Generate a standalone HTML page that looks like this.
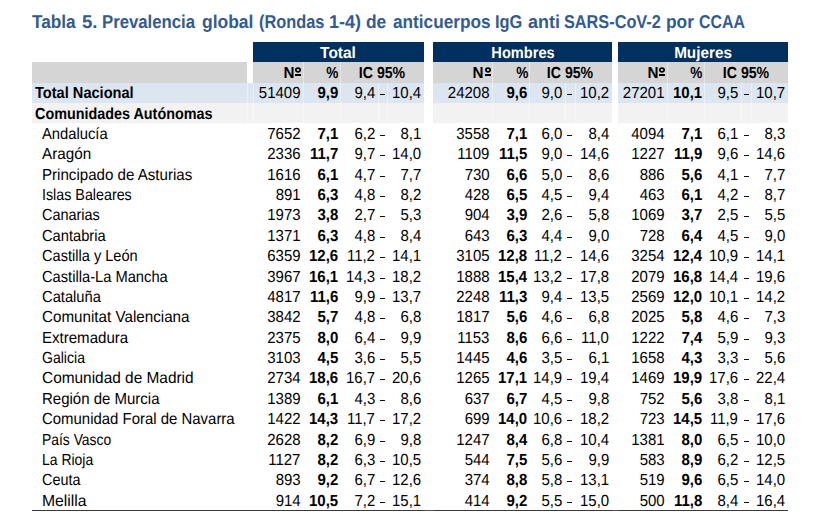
<!DOCTYPE html>
<html><head><meta charset="utf-8"><style>
html,body{margin:0;padding:0;background:#fff;}
body{width:828px;height:531px;position:relative;overflow:hidden;font-family:"Liberation Sans",sans-serif;color:#000;text-rendering:geometricPrecision;}
.r{position:absolute;}
.t{position:absolute;white-space:nowrap;line-height:1;}
</style></head><body>
<div class="r" style="left:253px;top:42px;width:171px;height:20.2px;background:#00305f"></div>
<div class="r" style="left:433.4px;top:42px;width:178.6px;height:20.2px;background:#00305f"></div>
<div class="r" style="left:618px;top:42px;width:170px;height:20.2px;background:#00305f"></div>
<div class="r" style="left:32px;top:62.2px;width:215px;height:20.4px;background:#d5d5d5"></div>
<div class="r" style="left:253px;top:62.2px;width:171px;height:20.4px;background:#d5d5d5"></div>
<div class="r" style="left:433.4px;top:62.2px;width:178.6px;height:20.4px;background:#d5d5d5"></div>
<div class="r" style="left:618px;top:62.2px;width:170px;height:20.4px;background:#d5d5d5"></div>
<div class="r" style="left:32px;top:82.6px;width:392px;height:20.2px;background:#dce6f1"></div>
<div class="r" style="left:433.4px;top:82.6px;width:178.6px;height:20.2px;background:#dce6f1"></div>
<div class="r" style="left:618px;top:82.6px;width:170px;height:20.2px;background:#dce6f1"></div>
<div class="r" style="left:32px;top:102.8px;width:392px;height:20.2px;background:#f2f2f2"></div>
<div class="r" style="left:433.4px;top:102.8px;width:178.6px;height:20.2px;background:#f2f2f2"></div>
<div class="r" style="left:618px;top:102.8px;width:170px;height:20.2px;background:#f2f2f2"></div>
<div class="r" style="left:302.8px;top:62.2px;width:1px;height:20.4px;background:rgba(255,255,255,0.4)"></div>
<div class="r" style="left:339.9px;top:62.2px;width:1px;height:20.4px;background:rgba(255,255,255,0.4)"></div>
<div class="r" style="left:302.8px;top:82.6px;width:1px;height:40.4px;background:rgba(255,255,255,0.4)"></div>
<div class="r" style="left:339.9px;top:82.6px;width:1px;height:40.4px;background:rgba(255,255,255,0.4)"></div>
<div class="r" style="left:377.5px;top:82.6px;width:1px;height:40.4px;background:rgba(255,255,255,0.4)"></div>
<div class="r" style="left:386.7px;top:82.6px;width:1px;height:40.4px;background:rgba(255,255,255,0.4)"></div>
<div class="r" style="left:492.2px;top:62.2px;width:1px;height:20.4px;background:rgba(255,255,255,0.4)"></div>
<div class="r" style="left:529.1px;top:62.2px;width:1px;height:20.4px;background:rgba(255,255,255,0.4)"></div>
<div class="r" style="left:492.2px;top:82.6px;width:1px;height:40.4px;background:rgba(255,255,255,0.4)"></div>
<div class="r" style="left:529.1px;top:82.6px;width:1px;height:40.4px;background:rgba(255,255,255,0.4)"></div>
<div class="r" style="left:564.5px;top:82.6px;width:1px;height:40.4px;background:rgba(255,255,255,0.4)"></div>
<div class="r" style="left:575px;top:82.6px;width:1px;height:40.4px;background:rgba(255,255,255,0.4)"></div>
<div class="r" style="left:667.1px;top:62.2px;width:1px;height:20.4px;background:rgba(255,255,255,0.4)"></div>
<div class="r" style="left:703.8px;top:62.2px;width:1px;height:20.4px;background:rgba(255,255,255,0.4)"></div>
<div class="r" style="left:667.1px;top:82.6px;width:1px;height:40.4px;background:rgba(255,255,255,0.4)"></div>
<div class="r" style="left:703.8px;top:82.6px;width:1px;height:40.4px;background:rgba(255,255,255,0.4)"></div>
<div class="r" style="left:740.5px;top:82.6px;width:1px;height:40.4px;background:rgba(255,255,255,0.4)"></div>
<div class="r" style="left:750.7px;top:82.6px;width:1px;height:40.4px;background:rgba(255,255,255,0.4)"></div>
<div class="r" style="left:246.5px;top:82.6px;width:1px;height:40.4px;background:rgba(255,255,255,0.4)"></div>
<div class="r" style="left:252.5px;top:82.6px;width:1px;height:40.4px;background:rgba(255,255,255,0.4)"></div>
<div class="r" style="left:32px;top:510px;width:756px;height:1px;background:#3a3a3a"></div>
<div class="r" style="left:424.5px;top:510px;width:9px;height:1px;background:#5a5a5a"></div>
<div class="r" style="left:612.5px;top:510px;width:5px;height:1px;background:#5a5a5a"></div>
<div class="t" style="top:13.14px;font-size:18.5px;font-weight:bold;color:#325b93;left:32.3px;transform:scaleX(0.9298);transform-origin:0 0;">Tabla</div>
<div class="t" style="top:13.14px;font-size:18.5px;font-weight:bold;color:#325b93;left:81.79px;transform:scaleX(1.0077);transform-origin:0 0;">5.</div>
<div class="t" style="top:13.14px;font-size:18.5px;font-weight:bold;color:#325b93;left:102.1px;transform:scaleX(0.9049);transform-origin:0 0;">Prevalencia</div>
<div class="t" style="top:13.14px;font-size:18.5px;font-weight:bold;color:#325b93;left:201.86px;transform:scaleX(0.9442);transform-origin:0 0;">global</div>
<div class="t" style="top:13.14px;font-size:18.5px;font-weight:bold;color:#325b93;left:258.62px;transform:scaleX(0.8836);transform-origin:0 0;">(Rondas</div>
<div class="t" style="top:13.14px;font-size:18.5px;font-weight:bold;color:#325b93;left:329.43px;transform:scaleX(0.9742);transform-origin:0 0;">1-4)</div>
<div class="t" style="top:13.14px;font-size:18.5px;font-weight:bold;color:#325b93;left:366.46px;transform:scaleX(0.94);transform-origin:0 0;">de</div>
<div class="t" style="top:13.14px;font-size:18.5px;font-weight:bold;color:#325b93;left:392.5px;transform:scaleX(0.9298);transform-origin:0 0;">anticuerpos</div>
<div class="t" style="top:13.14px;font-size:18.5px;font-weight:bold;color:#325b93;left:495.11px;transform:scaleX(0.8862);transform-origin:0 0;">IgG</div>
<div class="t" style="top:13.14px;font-size:18.5px;font-weight:bold;color:#325b93;left:527.7px;transform:scaleX(0.9688);transform-origin:0 0;">anti</div>
<div class="t" style="top:13.14px;font-size:18.5px;font-weight:bold;color:#325b93;left:563.62px;transform:scaleX(0.8798);transform-origin:0 0;">SARS-CoV-2</div>
<div class="t" style="top:13.14px;font-size:18.5px;font-weight:bold;color:#325b93;left:665.66px;transform:scaleX(0.9379);transform-origin:0 0;">por</div>
<div class="t" style="top:13.14px;font-size:18.5px;font-weight:bold;color:#325b93;left:698.94px;transform:scaleX(0.8577);transform-origin:0 0;">CCAA</div>
<div class="t" style="top:46px;font-size:16px;font-weight:bold;color:#fff;left:138.4px;width:400px;text-align:center;transform:scaleX(0.967);transform-origin:50% 0;">Total</div>
<div class="t" style="top:46px;font-size:16px;font-weight:bold;color:#fff;left:323px;width:400px;text-align:center;transform:scaleX(0.912);transform-origin:50% 0;">Hombres</div>
<div class="t" style="top:46px;font-size:16px;font-weight:bold;color:#fff;left:503.2px;width:400px;text-align:center;transform:scaleX(0.955);transform-origin:50% 0;">Mujeres</div>
<div class="t" style="top:66px;font-size:16px;font-weight:bold;right:533.7px;transform:scaleX(0.95);transform-origin:100% 0;">N</div>
<svg class="r" style="left:294.15px;top:65.9px" width="8" height="8" viewBox="0 0 8 8"><ellipse cx="4" cy="4" rx="2.2" ry="1.95" fill="none" stroke="#000" stroke-width="1.7"/></svg>
<div class="r" style="left:295.1px;top:74.2px;width:6px;height:1.8px;background:#000"></div>
<div class="t" style="top:66px;font-size:16px;font-weight:bold;right:489.4px;transform:scaleX(0.85);transform-origin:100% 0;">%</div>
<div class="t" style="top:66px;font-size:16px;font-weight:bold;left:182.3px;width:400px;text-align:center;transform:scaleX(0.883);transform-origin:50% 0;">IC 95%</div>
<div class="t" style="top:66px;font-size:16px;font-weight:bold;right:344.3px;transform:scaleX(0.95);transform-origin:100% 0;">N</div>
<svg class="r" style="left:483.55px;top:65.9px" width="8" height="8" viewBox="0 0 8 8"><ellipse cx="4" cy="4" rx="2.2" ry="1.95" fill="none" stroke="#000" stroke-width="1.7"/></svg>
<div class="r" style="left:484.5px;top:74.2px;width:6px;height:1.8px;background:#000"></div>
<div class="t" style="top:66px;font-size:16px;font-weight:bold;right:300.2px;transform:scaleX(0.85);transform-origin:100% 0;">%</div>
<div class="t" style="top:66px;font-size:16px;font-weight:bold;left:370.4px;width:400px;text-align:center;transform:scaleX(0.883);transform-origin:50% 0;">IC 95%</div>
<div class="t" style="top:66px;font-size:16px;font-weight:bold;right:169.4px;transform:scaleX(0.95);transform-origin:100% 0;">N</div>
<svg class="r" style="left:658.45px;top:65.9px" width="8" height="8" viewBox="0 0 8 8"><ellipse cx="4" cy="4" rx="2.2" ry="1.95" fill="none" stroke="#000" stroke-width="1.7"/></svg>
<div class="r" style="left:659.4px;top:74.2px;width:6px;height:1.8px;background:#000"></div>
<div class="t" style="top:66px;font-size:16px;font-weight:bold;right:125.5px;transform:scaleX(0.85);transform-origin:100% 0;">%</div>
<div class="t" style="top:66px;font-size:16px;font-weight:bold;left:546.25px;width:400px;text-align:center;transform:scaleX(0.883);transform-origin:50% 0;">IC 95%</div>
<div class="t" style="top:86px;font-size:16px;font-weight:bold;left:35px;transform:scaleX(0.9123);transform-origin:0 0;">Total Nacional</div>
<div class="t" style="top:86px;font-size:16px;right:527.7px;transform:scaleX(0.936);transform-origin:100% 0;">51409</div>
<div class="t" style="top:86px;font-size:16px;font-weight:bold;right:490.1px;transform:scaleX(0.936);transform-origin:100% 0;">9,9</div>
<div class="t" style="top:86px;font-size:16px;right:453px;transform:scaleX(0.936);transform-origin:100% 0;">9,4</div>
<div class="r" style="left:380.15px;top:93.8px;width:4.6px;height:1.3px;background:#111"></div>
<div class="t" style="top:86px;font-size:16px;right:407px;transform:scaleX(0.936);transform-origin:100% 0;">10,4</div>
<div class="t" style="top:86px;font-size:16px;right:338.3px;transform:scaleX(0.936);transform-origin:100% 0;">24208</div>
<div class="t" style="top:86px;font-size:16px;font-weight:bold;right:300.9px;transform:scaleX(0.936);transform-origin:100% 0;">9,6</div>
<div class="t" style="top:86px;font-size:16px;right:266px;transform:scaleX(0.936);transform-origin:100% 0;">9,0</div>
<div class="r" style="left:567.35px;top:93.8px;width:4.6px;height:1.3px;background:#111"></div>
<div class="t" style="top:86px;font-size:16px;right:219px;transform:scaleX(0.936);transform-origin:100% 0;">10,2</div>
<div class="t" style="top:86px;font-size:16px;right:163.4px;transform:scaleX(0.936);transform-origin:100% 0;">27201</div>
<div class="t" style="top:86px;font-size:16px;font-weight:bold;right:126.2px;transform:scaleX(0.936);transform-origin:100% 0;">10,1</div>
<div class="t" style="top:86px;font-size:16px;right:90px;transform:scaleX(0.936);transform-origin:100% 0;">9,5</div>
<div class="r" style="left:744.1px;top:93.8px;width:4.6px;height:1.3px;background:#111"></div>
<div class="t" style="top:86px;font-size:16px;right:43px;transform:scaleX(0.936);transform-origin:100% 0;">10,7</div>
<div class="t" style="top:107px;font-size:16px;font-weight:bold;left:35px;transform:scaleX(0.8981);transform-origin:0 0;">Comunidades Autónomas</div>
<div class="t" style="top:127px;font-size:16px;left:42px;transform:scaleX(0.9228);transform-origin:0 0;">Andalucía</div>
<div class="t" style="top:127px;font-size:16px;right:527.7px;transform:scaleX(0.936);transform-origin:100% 0;">7652</div>
<div class="t" style="top:127px;font-size:16px;font-weight:bold;right:490.1px;transform:scaleX(0.936);transform-origin:100% 0;">7,1</div>
<div class="t" style="top:127px;font-size:16px;right:453px;transform:scaleX(0.936);transform-origin:100% 0;">6,2</div>
<div class="r" style="left:380.15px;top:134.8px;width:4.6px;height:1.3px;background:#111"></div>
<div class="t" style="top:127px;font-size:16px;right:407px;transform:scaleX(0.936);transform-origin:100% 0;">8,1</div>
<div class="t" style="top:127px;font-size:16px;right:338.3px;transform:scaleX(0.936);transform-origin:100% 0;">3558</div>
<div class="t" style="top:127px;font-size:16px;font-weight:bold;right:300.9px;transform:scaleX(0.936);transform-origin:100% 0;">7,1</div>
<div class="t" style="top:127px;font-size:16px;right:266px;transform:scaleX(0.936);transform-origin:100% 0;">6,0</div>
<div class="r" style="left:567.35px;top:134.8px;width:4.6px;height:1.3px;background:#111"></div>
<div class="t" style="top:127px;font-size:16px;right:219px;transform:scaleX(0.936);transform-origin:100% 0;">8,4</div>
<div class="t" style="top:127px;font-size:16px;right:163.4px;transform:scaleX(0.936);transform-origin:100% 0;">4094</div>
<div class="t" style="top:127px;font-size:16px;font-weight:bold;right:126.2px;transform:scaleX(0.936);transform-origin:100% 0;">7,1</div>
<div class="t" style="top:127px;font-size:16px;right:90px;transform:scaleX(0.936);transform-origin:100% 0;">6,1</div>
<div class="r" style="left:744.1px;top:134.8px;width:4.6px;height:1.3px;background:#111"></div>
<div class="t" style="top:127px;font-size:16px;right:43px;transform:scaleX(0.936);transform-origin:100% 0;">8,3</div>
<div class="t" style="top:147px;font-size:16px;left:42px;transform:scaleX(0.9524);transform-origin:0 0;">Aragón</div>
<div class="t" style="top:147px;font-size:16px;right:527.7px;transform:scaleX(0.936);transform-origin:100% 0;">2336</div>
<div class="t" style="top:147px;font-size:16px;font-weight:bold;right:490.1px;transform:scaleX(0.936);transform-origin:100% 0;">11,7</div>
<div class="t" style="top:147px;font-size:16px;right:453px;transform:scaleX(0.936);transform-origin:100% 0;">9,7</div>
<div class="r" style="left:380.15px;top:154.8px;width:4.6px;height:1.3px;background:#111"></div>
<div class="t" style="top:147px;font-size:16px;right:407px;transform:scaleX(0.936);transform-origin:100% 0;">14,0</div>
<div class="t" style="top:147px;font-size:16px;right:338.3px;transform:scaleX(0.936);transform-origin:100% 0;">1109</div>
<div class="t" style="top:147px;font-size:16px;font-weight:bold;right:300.9px;transform:scaleX(0.936);transform-origin:100% 0;">11,5</div>
<div class="t" style="top:147px;font-size:16px;right:266px;transform:scaleX(0.936);transform-origin:100% 0;">9,0</div>
<div class="r" style="left:567.35px;top:154.8px;width:4.6px;height:1.3px;background:#111"></div>
<div class="t" style="top:147px;font-size:16px;right:219px;transform:scaleX(0.936);transform-origin:100% 0;">14,6</div>
<div class="t" style="top:147px;font-size:16px;right:163.4px;transform:scaleX(0.936);transform-origin:100% 0;">1227</div>
<div class="t" style="top:147px;font-size:16px;font-weight:bold;right:126.2px;transform:scaleX(0.936);transform-origin:100% 0;">11,9</div>
<div class="t" style="top:147px;font-size:16px;right:90px;transform:scaleX(0.936);transform-origin:100% 0;">9,6</div>
<div class="r" style="left:744.1px;top:154.8px;width:4.6px;height:1.3px;background:#111"></div>
<div class="t" style="top:147px;font-size:16px;right:43px;transform:scaleX(0.936);transform-origin:100% 0;">14,6</div>
<div class="t" style="top:168px;font-size:16px;left:42px;transform:scaleX(0.944);transform-origin:0 0;">Principado de Asturias</div>
<div class="t" style="top:168px;font-size:16px;right:527.7px;transform:scaleX(0.936);transform-origin:100% 0;">1616</div>
<div class="t" style="top:168px;font-size:16px;font-weight:bold;right:490.1px;transform:scaleX(0.936);transform-origin:100% 0;">6,1</div>
<div class="t" style="top:168px;font-size:16px;right:453px;transform:scaleX(0.936);transform-origin:100% 0;">4,7</div>
<div class="r" style="left:380.15px;top:175.8px;width:4.6px;height:1.3px;background:#111"></div>
<div class="t" style="top:168px;font-size:16px;right:407px;transform:scaleX(0.936);transform-origin:100% 0;">7,7</div>
<div class="t" style="top:168px;font-size:16px;right:338.3px;transform:scaleX(0.936);transform-origin:100% 0;">730</div>
<div class="t" style="top:168px;font-size:16px;font-weight:bold;right:300.9px;transform:scaleX(0.936);transform-origin:100% 0;">6,6</div>
<div class="t" style="top:168px;font-size:16px;right:266px;transform:scaleX(0.936);transform-origin:100% 0;">5,0</div>
<div class="r" style="left:567.35px;top:175.8px;width:4.6px;height:1.3px;background:#111"></div>
<div class="t" style="top:168px;font-size:16px;right:219px;transform:scaleX(0.936);transform-origin:100% 0;">8,6</div>
<div class="t" style="top:168px;font-size:16px;right:163.4px;transform:scaleX(0.936);transform-origin:100% 0;">886</div>
<div class="t" style="top:168px;font-size:16px;font-weight:bold;right:126.2px;transform:scaleX(0.936);transform-origin:100% 0;">5,6</div>
<div class="t" style="top:168px;font-size:16px;right:90px;transform:scaleX(0.936);transform-origin:100% 0;">4,1</div>
<div class="r" style="left:744.1px;top:175.8px;width:4.6px;height:1.3px;background:#111"></div>
<div class="t" style="top:168px;font-size:16px;right:43px;transform:scaleX(0.936);transform-origin:100% 0;">7,7</div>
<div class="t" style="top:188px;font-size:16px;left:42px;transform:scaleX(0.8932);transform-origin:0 0;">Islas Baleares</div>
<div class="t" style="top:188px;font-size:16px;right:527.7px;transform:scaleX(0.936);transform-origin:100% 0;">891</div>
<div class="t" style="top:188px;font-size:16px;font-weight:bold;right:490.1px;transform:scaleX(0.936);transform-origin:100% 0;">6,3</div>
<div class="t" style="top:188px;font-size:16px;right:453px;transform:scaleX(0.936);transform-origin:100% 0;">4,8</div>
<div class="r" style="left:380.15px;top:195.8px;width:4.6px;height:1.3px;background:#111"></div>
<div class="t" style="top:188px;font-size:16px;right:407px;transform:scaleX(0.936);transform-origin:100% 0;">8,2</div>
<div class="t" style="top:188px;font-size:16px;right:338.3px;transform:scaleX(0.936);transform-origin:100% 0;">428</div>
<div class="t" style="top:188px;font-size:16px;font-weight:bold;right:300.9px;transform:scaleX(0.936);transform-origin:100% 0;">6,5</div>
<div class="t" style="top:188px;font-size:16px;right:266px;transform:scaleX(0.936);transform-origin:100% 0;">4,5</div>
<div class="r" style="left:567.35px;top:195.8px;width:4.6px;height:1.3px;background:#111"></div>
<div class="t" style="top:188px;font-size:16px;right:219px;transform:scaleX(0.936);transform-origin:100% 0;">9,4</div>
<div class="t" style="top:188px;font-size:16px;right:163.4px;transform:scaleX(0.936);transform-origin:100% 0;">463</div>
<div class="t" style="top:188px;font-size:16px;font-weight:bold;right:126.2px;transform:scaleX(0.936);transform-origin:100% 0;">6,1</div>
<div class="t" style="top:188px;font-size:16px;right:90px;transform:scaleX(0.936);transform-origin:100% 0;">4,2</div>
<div class="r" style="left:744.1px;top:195.8px;width:4.6px;height:1.3px;background:#111"></div>
<div class="t" style="top:188px;font-size:16px;right:43px;transform:scaleX(0.936);transform-origin:100% 0;">8,7</div>
<div class="t" style="top:208px;font-size:16px;left:42px;transform:scaleX(0.9027);transform-origin:0 0;">Canarias</div>
<div class="t" style="top:208px;font-size:16px;right:527.7px;transform:scaleX(0.936);transform-origin:100% 0;">1973</div>
<div class="t" style="top:208px;font-size:16px;font-weight:bold;right:490.1px;transform:scaleX(0.936);transform-origin:100% 0;">3,8</div>
<div class="t" style="top:208px;font-size:16px;right:453px;transform:scaleX(0.936);transform-origin:100% 0;">2,7</div>
<div class="r" style="left:380.15px;top:215.8px;width:4.6px;height:1.3px;background:#111"></div>
<div class="t" style="top:208px;font-size:16px;right:407px;transform:scaleX(0.936);transform-origin:100% 0;">5,3</div>
<div class="t" style="top:208px;font-size:16px;right:338.3px;transform:scaleX(0.936);transform-origin:100% 0;">904</div>
<div class="t" style="top:208px;font-size:16px;font-weight:bold;right:300.9px;transform:scaleX(0.936);transform-origin:100% 0;">3,9</div>
<div class="t" style="top:208px;font-size:16px;right:266px;transform:scaleX(0.936);transform-origin:100% 0;">2,6</div>
<div class="r" style="left:567.35px;top:215.8px;width:4.6px;height:1.3px;background:#111"></div>
<div class="t" style="top:208px;font-size:16px;right:219px;transform:scaleX(0.936);transform-origin:100% 0;">5,8</div>
<div class="t" style="top:208px;font-size:16px;right:163.4px;transform:scaleX(0.936);transform-origin:100% 0;">1069</div>
<div class="t" style="top:208px;font-size:16px;font-weight:bold;right:126.2px;transform:scaleX(0.936);transform-origin:100% 0;">3,7</div>
<div class="t" style="top:208px;font-size:16px;right:90px;transform:scaleX(0.936);transform-origin:100% 0;">2,5</div>
<div class="r" style="left:744.1px;top:215.8px;width:4.6px;height:1.3px;background:#111"></div>
<div class="t" style="top:208px;font-size:16px;right:43px;transform:scaleX(0.936);transform-origin:100% 0;">5,5</div>
<div class="t" style="top:229px;font-size:16px;left:42px;transform:scaleX(0.9177);transform-origin:0 0;">Cantabria</div>
<div class="t" style="top:229px;font-size:16px;right:527.7px;transform:scaleX(0.936);transform-origin:100% 0;">1371</div>
<div class="t" style="top:229px;font-size:16px;font-weight:bold;right:490.1px;transform:scaleX(0.936);transform-origin:100% 0;">6,3</div>
<div class="t" style="top:229px;font-size:16px;right:453px;transform:scaleX(0.936);transform-origin:100% 0;">4,8</div>
<div class="r" style="left:380.15px;top:236.8px;width:4.6px;height:1.3px;background:#111"></div>
<div class="t" style="top:229px;font-size:16px;right:407px;transform:scaleX(0.936);transform-origin:100% 0;">8,4</div>
<div class="t" style="top:229px;font-size:16px;right:338.3px;transform:scaleX(0.936);transform-origin:100% 0;">643</div>
<div class="t" style="top:229px;font-size:16px;font-weight:bold;right:300.9px;transform:scaleX(0.936);transform-origin:100% 0;">6,3</div>
<div class="t" style="top:229px;font-size:16px;right:266px;transform:scaleX(0.936);transform-origin:100% 0;">4,4</div>
<div class="r" style="left:567.35px;top:236.8px;width:4.6px;height:1.3px;background:#111"></div>
<div class="t" style="top:229px;font-size:16px;right:219px;transform:scaleX(0.936);transform-origin:100% 0;">9,0</div>
<div class="t" style="top:229px;font-size:16px;right:163.4px;transform:scaleX(0.936);transform-origin:100% 0;">728</div>
<div class="t" style="top:229px;font-size:16px;font-weight:bold;right:126.2px;transform:scaleX(0.936);transform-origin:100% 0;">6,4</div>
<div class="t" style="top:229px;font-size:16px;right:90px;transform:scaleX(0.936);transform-origin:100% 0;">4,5</div>
<div class="r" style="left:744.1px;top:236.8px;width:4.6px;height:1.3px;background:#111"></div>
<div class="t" style="top:229px;font-size:16px;right:43px;transform:scaleX(0.936);transform-origin:100% 0;">9,0</div>
<div class="t" style="top:249px;font-size:16px;left:42px;transform:scaleX(0.9116);transform-origin:0 0;">Castilla y León</div>
<div class="t" style="top:249px;font-size:16px;right:527.7px;transform:scaleX(0.936);transform-origin:100% 0;">6359</div>
<div class="t" style="top:249px;font-size:16px;font-weight:bold;right:490.1px;transform:scaleX(0.936);transform-origin:100% 0;">12,6</div>
<div class="t" style="top:249px;font-size:16px;right:453px;transform:scaleX(0.936);transform-origin:100% 0;">11,2</div>
<div class="r" style="left:380.15px;top:256.8px;width:4.6px;height:1.3px;background:#111"></div>
<div class="t" style="top:249px;font-size:16px;right:407px;transform:scaleX(0.936);transform-origin:100% 0;">14,1</div>
<div class="t" style="top:249px;font-size:16px;right:338.3px;transform:scaleX(0.936);transform-origin:100% 0;">3105</div>
<div class="t" style="top:249px;font-size:16px;font-weight:bold;right:300.9px;transform:scaleX(0.936);transform-origin:100% 0;">12,8</div>
<div class="t" style="top:249px;font-size:16px;right:266px;transform:scaleX(0.936);transform-origin:100% 0;">11,2</div>
<div class="r" style="left:567.35px;top:256.8px;width:4.6px;height:1.3px;background:#111"></div>
<div class="t" style="top:249px;font-size:16px;right:219px;transform:scaleX(0.936);transform-origin:100% 0;">14,6</div>
<div class="t" style="top:249px;font-size:16px;right:163.4px;transform:scaleX(0.936);transform-origin:100% 0;">3254</div>
<div class="t" style="top:249px;font-size:16px;font-weight:bold;right:126.2px;transform:scaleX(0.936);transform-origin:100% 0;">12,4</div>
<div class="t" style="top:249px;font-size:16px;right:90px;transform:scaleX(0.936);transform-origin:100% 0;">10,9</div>
<div class="r" style="left:744.1px;top:256.8px;width:4.6px;height:1.3px;background:#111"></div>
<div class="t" style="top:249px;font-size:16px;right:43px;transform:scaleX(0.936);transform-origin:100% 0;">14,1</div>
<div class="t" style="top:270px;font-size:16px;left:42px;transform:scaleX(0.918);transform-origin:0 0;">Castilla-La Mancha</div>
<div class="t" style="top:270px;font-size:16px;right:527.7px;transform:scaleX(0.936);transform-origin:100% 0;">3967</div>
<div class="t" style="top:270px;font-size:16px;font-weight:bold;right:490.1px;transform:scaleX(0.936);transform-origin:100% 0;">16,1</div>
<div class="t" style="top:270px;font-size:16px;right:453px;transform:scaleX(0.936);transform-origin:100% 0;">14,3</div>
<div class="r" style="left:380.15px;top:277.8px;width:4.6px;height:1.3px;background:#111"></div>
<div class="t" style="top:270px;font-size:16px;right:407px;transform:scaleX(0.936);transform-origin:100% 0;">18,2</div>
<div class="t" style="top:270px;font-size:16px;right:338.3px;transform:scaleX(0.936);transform-origin:100% 0;">1888</div>
<div class="t" style="top:270px;font-size:16px;font-weight:bold;right:300.9px;transform:scaleX(0.936);transform-origin:100% 0;">15,4</div>
<div class="t" style="top:270px;font-size:16px;right:266px;transform:scaleX(0.936);transform-origin:100% 0;">13,2</div>
<div class="r" style="left:567.35px;top:277.8px;width:4.6px;height:1.3px;background:#111"></div>
<div class="t" style="top:270px;font-size:16px;right:219px;transform:scaleX(0.936);transform-origin:100% 0;">17,8</div>
<div class="t" style="top:270px;font-size:16px;right:163.4px;transform:scaleX(0.936);transform-origin:100% 0;">2079</div>
<div class="t" style="top:270px;font-size:16px;font-weight:bold;right:126.2px;transform:scaleX(0.936);transform-origin:100% 0;">16,8</div>
<div class="t" style="top:270px;font-size:16px;right:90px;transform:scaleX(0.936);transform-origin:100% 0;">14,4</div>
<div class="r" style="left:744.1px;top:277.8px;width:4.6px;height:1.3px;background:#111"></div>
<div class="t" style="top:270px;font-size:16px;right:43px;transform:scaleX(0.936);transform-origin:100% 0;">19,6</div>
<div class="t" style="top:290px;font-size:16px;left:42px;transform:scaleX(0.92);transform-origin:0 0;">Cataluña</div>
<div class="t" style="top:290px;font-size:16px;right:527.7px;transform:scaleX(0.936);transform-origin:100% 0;">4817</div>
<div class="t" style="top:290px;font-size:16px;font-weight:bold;right:490.1px;transform:scaleX(0.936);transform-origin:100% 0;">11,6</div>
<div class="t" style="top:290px;font-size:16px;right:453px;transform:scaleX(0.936);transform-origin:100% 0;">9,9</div>
<div class="r" style="left:380.15px;top:297.8px;width:4.6px;height:1.3px;background:#111"></div>
<div class="t" style="top:290px;font-size:16px;right:407px;transform:scaleX(0.936);transform-origin:100% 0;">13,7</div>
<div class="t" style="top:290px;font-size:16px;right:338.3px;transform:scaleX(0.936);transform-origin:100% 0;">2248</div>
<div class="t" style="top:290px;font-size:16px;font-weight:bold;right:300.9px;transform:scaleX(0.936);transform-origin:100% 0;">11,3</div>
<div class="t" style="top:290px;font-size:16px;right:266px;transform:scaleX(0.936);transform-origin:100% 0;">9,4</div>
<div class="r" style="left:567.35px;top:297.8px;width:4.6px;height:1.3px;background:#111"></div>
<div class="t" style="top:290px;font-size:16px;right:219px;transform:scaleX(0.936);transform-origin:100% 0;">13,5</div>
<div class="t" style="top:290px;font-size:16px;right:163.4px;transform:scaleX(0.936);transform-origin:100% 0;">2569</div>
<div class="t" style="top:290px;font-size:16px;font-weight:bold;right:126.2px;transform:scaleX(0.936);transform-origin:100% 0;">12,0</div>
<div class="t" style="top:290px;font-size:16px;right:90px;transform:scaleX(0.936);transform-origin:100% 0;">10,1</div>
<div class="r" style="left:744.1px;top:297.8px;width:4.6px;height:1.3px;background:#111"></div>
<div class="t" style="top:290px;font-size:16px;right:43px;transform:scaleX(0.936);transform-origin:100% 0;">14,2</div>
<div class="t" style="top:310px;font-size:16px;left:42px;transform:scaleX(0.9494);transform-origin:0 0;">Comunitat Valenciana</div>
<div class="t" style="top:310px;font-size:16px;right:527.7px;transform:scaleX(0.936);transform-origin:100% 0;">3842</div>
<div class="t" style="top:310px;font-size:16px;font-weight:bold;right:490.1px;transform:scaleX(0.936);transform-origin:100% 0;">5,7</div>
<div class="t" style="top:310px;font-size:16px;right:453px;transform:scaleX(0.936);transform-origin:100% 0;">4,8</div>
<div class="r" style="left:380.15px;top:317.8px;width:4.6px;height:1.3px;background:#111"></div>
<div class="t" style="top:310px;font-size:16px;right:407px;transform:scaleX(0.936);transform-origin:100% 0;">6,8</div>
<div class="t" style="top:310px;font-size:16px;right:338.3px;transform:scaleX(0.936);transform-origin:100% 0;">1817</div>
<div class="t" style="top:310px;font-size:16px;font-weight:bold;right:300.9px;transform:scaleX(0.936);transform-origin:100% 0;">5,6</div>
<div class="t" style="top:310px;font-size:16px;right:266px;transform:scaleX(0.936);transform-origin:100% 0;">4,6</div>
<div class="r" style="left:567.35px;top:317.8px;width:4.6px;height:1.3px;background:#111"></div>
<div class="t" style="top:310px;font-size:16px;right:219px;transform:scaleX(0.936);transform-origin:100% 0;">6,8</div>
<div class="t" style="top:310px;font-size:16px;right:163.4px;transform:scaleX(0.936);transform-origin:100% 0;">2025</div>
<div class="t" style="top:310px;font-size:16px;font-weight:bold;right:126.2px;transform:scaleX(0.936);transform-origin:100% 0;">5,8</div>
<div class="t" style="top:310px;font-size:16px;right:90px;transform:scaleX(0.936);transform-origin:100% 0;">4,6</div>
<div class="r" style="left:744.1px;top:317.8px;width:4.6px;height:1.3px;background:#111"></div>
<div class="t" style="top:310px;font-size:16px;right:43px;transform:scaleX(0.936);transform-origin:100% 0;">7,3</div>
<div class="t" style="top:331px;font-size:16px;left:42px;transform:scaleX(0.9404);transform-origin:0 0;">Extremadura</div>
<div class="t" style="top:331px;font-size:16px;right:527.7px;transform:scaleX(0.936);transform-origin:100% 0;">2375</div>
<div class="t" style="top:331px;font-size:16px;font-weight:bold;right:490.1px;transform:scaleX(0.936);transform-origin:100% 0;">8,0</div>
<div class="t" style="top:331px;font-size:16px;right:453px;transform:scaleX(0.936);transform-origin:100% 0;">6,4</div>
<div class="r" style="left:380.15px;top:338.8px;width:4.6px;height:1.3px;background:#111"></div>
<div class="t" style="top:331px;font-size:16px;right:407px;transform:scaleX(0.936);transform-origin:100% 0;">9,9</div>
<div class="t" style="top:331px;font-size:16px;right:338.3px;transform:scaleX(0.936);transform-origin:100% 0;">1153</div>
<div class="t" style="top:331px;font-size:16px;font-weight:bold;right:300.9px;transform:scaleX(0.936);transform-origin:100% 0;">8,6</div>
<div class="t" style="top:331px;font-size:16px;right:266px;transform:scaleX(0.936);transform-origin:100% 0;">6,6</div>
<div class="r" style="left:567.35px;top:338.8px;width:4.6px;height:1.3px;background:#111"></div>
<div class="t" style="top:331px;font-size:16px;right:219px;transform:scaleX(0.936);transform-origin:100% 0;">11,0</div>
<div class="t" style="top:331px;font-size:16px;right:163.4px;transform:scaleX(0.936);transform-origin:100% 0;">1222</div>
<div class="t" style="top:331px;font-size:16px;font-weight:bold;right:126.2px;transform:scaleX(0.936);transform-origin:100% 0;">7,4</div>
<div class="t" style="top:331px;font-size:16px;right:90px;transform:scaleX(0.936);transform-origin:100% 0;">5,9</div>
<div class="r" style="left:744.1px;top:338.8px;width:4.6px;height:1.3px;background:#111"></div>
<div class="t" style="top:331px;font-size:16px;right:43px;transform:scaleX(0.936);transform-origin:100% 0;">9,3</div>
<div class="t" style="top:351px;font-size:16px;left:42px;transform:scaleX(0.8785);transform-origin:0 0;">Galicia</div>
<div class="t" style="top:351px;font-size:16px;right:527.7px;transform:scaleX(0.936);transform-origin:100% 0;">3103</div>
<div class="t" style="top:351px;font-size:16px;font-weight:bold;right:490.1px;transform:scaleX(0.936);transform-origin:100% 0;">4,5</div>
<div class="t" style="top:351px;font-size:16px;right:453px;transform:scaleX(0.936);transform-origin:100% 0;">3,6</div>
<div class="r" style="left:380.15px;top:358.8px;width:4.6px;height:1.3px;background:#111"></div>
<div class="t" style="top:351px;font-size:16px;right:407px;transform:scaleX(0.936);transform-origin:100% 0;">5,5</div>
<div class="t" style="top:351px;font-size:16px;right:338.3px;transform:scaleX(0.936);transform-origin:100% 0;">1445</div>
<div class="t" style="top:351px;font-size:16px;font-weight:bold;right:300.9px;transform:scaleX(0.936);transform-origin:100% 0;">4,6</div>
<div class="t" style="top:351px;font-size:16px;right:266px;transform:scaleX(0.936);transform-origin:100% 0;">3,5</div>
<div class="r" style="left:567.35px;top:358.8px;width:4.6px;height:1.3px;background:#111"></div>
<div class="t" style="top:351px;font-size:16px;right:219px;transform:scaleX(0.936);transform-origin:100% 0;">6,1</div>
<div class="t" style="top:351px;font-size:16px;right:163.4px;transform:scaleX(0.936);transform-origin:100% 0;">1658</div>
<div class="t" style="top:351px;font-size:16px;font-weight:bold;right:126.2px;transform:scaleX(0.936);transform-origin:100% 0;">4,3</div>
<div class="t" style="top:351px;font-size:16px;right:90px;transform:scaleX(0.936);transform-origin:100% 0;">3,3</div>
<div class="r" style="left:744.1px;top:358.8px;width:4.6px;height:1.3px;background:#111"></div>
<div class="t" style="top:351px;font-size:16px;right:43px;transform:scaleX(0.936);transform-origin:100% 0;">5,6</div>
<div class="t" style="top:371px;font-size:16px;left:42px;transform:scaleX(0.963);transform-origin:0 0;">Comunidad de Madrid</div>
<div class="t" style="top:371px;font-size:16px;right:527.7px;transform:scaleX(0.936);transform-origin:100% 0;">2734</div>
<div class="t" style="top:371px;font-size:16px;font-weight:bold;right:490.1px;transform:scaleX(0.936);transform-origin:100% 0;">18,6</div>
<div class="t" style="top:371px;font-size:16px;right:453px;transform:scaleX(0.936);transform-origin:100% 0;">16,7</div>
<div class="r" style="left:380.15px;top:378.8px;width:4.6px;height:1.3px;background:#111"></div>
<div class="t" style="top:371px;font-size:16px;right:407px;transform:scaleX(0.936);transform-origin:100% 0;">20,6</div>
<div class="t" style="top:371px;font-size:16px;right:338.3px;transform:scaleX(0.936);transform-origin:100% 0;">1265</div>
<div class="t" style="top:371px;font-size:16px;font-weight:bold;right:300.9px;transform:scaleX(0.936);transform-origin:100% 0;">17,1</div>
<div class="t" style="top:371px;font-size:16px;right:266px;transform:scaleX(0.936);transform-origin:100% 0;">14,9</div>
<div class="r" style="left:567.35px;top:378.8px;width:4.6px;height:1.3px;background:#111"></div>
<div class="t" style="top:371px;font-size:16px;right:219px;transform:scaleX(0.936);transform-origin:100% 0;">19,4</div>
<div class="t" style="top:371px;font-size:16px;right:163.4px;transform:scaleX(0.936);transform-origin:100% 0;">1469</div>
<div class="t" style="top:371px;font-size:16px;font-weight:bold;right:126.2px;transform:scaleX(0.936);transform-origin:100% 0;">19,9</div>
<div class="t" style="top:371px;font-size:16px;right:90px;transform:scaleX(0.936);transform-origin:100% 0;">17,6</div>
<div class="r" style="left:744.1px;top:378.8px;width:4.6px;height:1.3px;background:#111"></div>
<div class="t" style="top:371px;font-size:16px;right:43px;transform:scaleX(0.936);transform-origin:100% 0;">22,4</div>
<div class="t" style="top:392px;font-size:16px;left:42px;transform:scaleX(0.9369);transform-origin:0 0;">Región de Murcia</div>
<div class="t" style="top:392px;font-size:16px;right:527.7px;transform:scaleX(0.936);transform-origin:100% 0;">1389</div>
<div class="t" style="top:392px;font-size:16px;font-weight:bold;right:490.1px;transform:scaleX(0.936);transform-origin:100% 0;">6,1</div>
<div class="t" style="top:392px;font-size:16px;right:453px;transform:scaleX(0.936);transform-origin:100% 0;">4,3</div>
<div class="r" style="left:380.15px;top:399.8px;width:4.6px;height:1.3px;background:#111"></div>
<div class="t" style="top:392px;font-size:16px;right:407px;transform:scaleX(0.936);transform-origin:100% 0;">8,6</div>
<div class="t" style="top:392px;font-size:16px;right:338.3px;transform:scaleX(0.936);transform-origin:100% 0;">637</div>
<div class="t" style="top:392px;font-size:16px;font-weight:bold;right:300.9px;transform:scaleX(0.936);transform-origin:100% 0;">6,7</div>
<div class="t" style="top:392px;font-size:16px;right:266px;transform:scaleX(0.936);transform-origin:100% 0;">4,5</div>
<div class="r" style="left:567.35px;top:399.8px;width:4.6px;height:1.3px;background:#111"></div>
<div class="t" style="top:392px;font-size:16px;right:219px;transform:scaleX(0.936);transform-origin:100% 0;">9,8</div>
<div class="t" style="top:392px;font-size:16px;right:163.4px;transform:scaleX(0.936);transform-origin:100% 0;">752</div>
<div class="t" style="top:392px;font-size:16px;font-weight:bold;right:126.2px;transform:scaleX(0.936);transform-origin:100% 0;">5,6</div>
<div class="t" style="top:392px;font-size:16px;right:90px;transform:scaleX(0.936);transform-origin:100% 0;">3,8</div>
<div class="r" style="left:744.1px;top:399.8px;width:4.6px;height:1.3px;background:#111"></div>
<div class="t" style="top:392px;font-size:16px;right:43px;transform:scaleX(0.936);transform-origin:100% 0;">8,1</div>
<div class="t" style="top:412px;font-size:16px;left:42px;transform:scaleX(0.9337);transform-origin:0 0;">Comunidad Foral de Navarra</div>
<div class="t" style="top:412px;font-size:16px;right:527.7px;transform:scaleX(0.936);transform-origin:100% 0;">1422</div>
<div class="t" style="top:412px;font-size:16px;font-weight:bold;right:490.1px;transform:scaleX(0.936);transform-origin:100% 0;">14,3</div>
<div class="t" style="top:412px;font-size:16px;right:453px;transform:scaleX(0.936);transform-origin:100% 0;">11,7</div>
<div class="r" style="left:380.15px;top:419.8px;width:4.6px;height:1.3px;background:#111"></div>
<div class="t" style="top:412px;font-size:16px;right:407px;transform:scaleX(0.936);transform-origin:100% 0;">17,2</div>
<div class="t" style="top:412px;font-size:16px;right:338.3px;transform:scaleX(0.936);transform-origin:100% 0;">699</div>
<div class="t" style="top:412px;font-size:16px;font-weight:bold;right:300.9px;transform:scaleX(0.936);transform-origin:100% 0;">14,0</div>
<div class="t" style="top:412px;font-size:16px;right:266px;transform:scaleX(0.936);transform-origin:100% 0;">10,6</div>
<div class="r" style="left:567.35px;top:419.8px;width:4.6px;height:1.3px;background:#111"></div>
<div class="t" style="top:412px;font-size:16px;right:219px;transform:scaleX(0.936);transform-origin:100% 0;">18,2</div>
<div class="t" style="top:412px;font-size:16px;right:163.4px;transform:scaleX(0.936);transform-origin:100% 0;">723</div>
<div class="t" style="top:412px;font-size:16px;font-weight:bold;right:126.2px;transform:scaleX(0.936);transform-origin:100% 0;">14,5</div>
<div class="t" style="top:412px;font-size:16px;right:90px;transform:scaleX(0.936);transform-origin:100% 0;">11,9</div>
<div class="r" style="left:744.1px;top:419.8px;width:4.6px;height:1.3px;background:#111"></div>
<div class="t" style="top:412px;font-size:16px;right:43px;transform:scaleX(0.936);transform-origin:100% 0;">17,6</div>
<div class="t" style="top:433px;font-size:16px;left:42px;transform:scaleX(0.8676);transform-origin:0 0;">País Vasco</div>
<div class="t" style="top:433px;font-size:16px;right:527.7px;transform:scaleX(0.936);transform-origin:100% 0;">2628</div>
<div class="t" style="top:433px;font-size:16px;font-weight:bold;right:490.1px;transform:scaleX(0.936);transform-origin:100% 0;">8,2</div>
<div class="t" style="top:433px;font-size:16px;right:453px;transform:scaleX(0.936);transform-origin:100% 0;">6,9</div>
<div class="r" style="left:380.15px;top:440.8px;width:4.6px;height:1.3px;background:#111"></div>
<div class="t" style="top:433px;font-size:16px;right:407px;transform:scaleX(0.936);transform-origin:100% 0;">9,8</div>
<div class="t" style="top:433px;font-size:16px;right:338.3px;transform:scaleX(0.936);transform-origin:100% 0;">1247</div>
<div class="t" style="top:433px;font-size:16px;font-weight:bold;right:300.9px;transform:scaleX(0.936);transform-origin:100% 0;">8,4</div>
<div class="t" style="top:433px;font-size:16px;right:266px;transform:scaleX(0.936);transform-origin:100% 0;">6,8</div>
<div class="r" style="left:567.35px;top:440.8px;width:4.6px;height:1.3px;background:#111"></div>
<div class="t" style="top:433px;font-size:16px;right:219px;transform:scaleX(0.936);transform-origin:100% 0;">10,4</div>
<div class="t" style="top:433px;font-size:16px;right:163.4px;transform:scaleX(0.936);transform-origin:100% 0;">1381</div>
<div class="t" style="top:433px;font-size:16px;font-weight:bold;right:126.2px;transform:scaleX(0.936);transform-origin:100% 0;">8,0</div>
<div class="t" style="top:433px;font-size:16px;right:90px;transform:scaleX(0.936);transform-origin:100% 0;">6,5</div>
<div class="r" style="left:744.1px;top:440.8px;width:4.6px;height:1.3px;background:#111"></div>
<div class="t" style="top:433px;font-size:16px;right:43px;transform:scaleX(0.936);transform-origin:100% 0;">10,0</div>
<div class="t" style="top:453px;font-size:16px;left:42px;transform:scaleX(0.8713);transform-origin:0 0;">La Rioja</div>
<div class="t" style="top:453px;font-size:16px;right:527.7px;transform:scaleX(0.936);transform-origin:100% 0;">1127</div>
<div class="t" style="top:453px;font-size:16px;font-weight:bold;right:490.1px;transform:scaleX(0.936);transform-origin:100% 0;">8,2</div>
<div class="t" style="top:453px;font-size:16px;right:453px;transform:scaleX(0.936);transform-origin:100% 0;">6,3</div>
<div class="r" style="left:380.15px;top:460.8px;width:4.6px;height:1.3px;background:#111"></div>
<div class="t" style="top:453px;font-size:16px;right:407px;transform:scaleX(0.936);transform-origin:100% 0;">10,5</div>
<div class="t" style="top:453px;font-size:16px;right:338.3px;transform:scaleX(0.936);transform-origin:100% 0;">544</div>
<div class="t" style="top:453px;font-size:16px;font-weight:bold;right:300.9px;transform:scaleX(0.936);transform-origin:100% 0;">7,5</div>
<div class="t" style="top:453px;font-size:16px;right:266px;transform:scaleX(0.936);transform-origin:100% 0;">5,6</div>
<div class="r" style="left:567.35px;top:460.8px;width:4.6px;height:1.3px;background:#111"></div>
<div class="t" style="top:453px;font-size:16px;right:219px;transform:scaleX(0.936);transform-origin:100% 0;">9,9</div>
<div class="t" style="top:453px;font-size:16px;right:163.4px;transform:scaleX(0.936);transform-origin:100% 0;">583</div>
<div class="t" style="top:453px;font-size:16px;font-weight:bold;right:126.2px;transform:scaleX(0.936);transform-origin:100% 0;">8,9</div>
<div class="t" style="top:453px;font-size:16px;right:90px;transform:scaleX(0.936);transform-origin:100% 0;">6,2</div>
<div class="r" style="left:744.1px;top:460.8px;width:4.6px;height:1.3px;background:#111"></div>
<div class="t" style="top:453px;font-size:16px;right:43px;transform:scaleX(0.936);transform-origin:100% 0;">12,5</div>
<div class="t" style="top:473px;font-size:16px;left:42px;transform:scaleX(0.8992);transform-origin:0 0;">Ceuta</div>
<div class="t" style="top:473px;font-size:16px;right:527.7px;transform:scaleX(0.936);transform-origin:100% 0;">893</div>
<div class="t" style="top:473px;font-size:16px;font-weight:bold;right:490.1px;transform:scaleX(0.936);transform-origin:100% 0;">9,2</div>
<div class="t" style="top:473px;font-size:16px;right:453px;transform:scaleX(0.936);transform-origin:100% 0;">6,7</div>
<div class="r" style="left:380.15px;top:480.8px;width:4.6px;height:1.3px;background:#111"></div>
<div class="t" style="top:473px;font-size:16px;right:407px;transform:scaleX(0.936);transform-origin:100% 0;">12,6</div>
<div class="t" style="top:473px;font-size:16px;right:338.3px;transform:scaleX(0.936);transform-origin:100% 0;">374</div>
<div class="t" style="top:473px;font-size:16px;font-weight:bold;right:300.9px;transform:scaleX(0.936);transform-origin:100% 0;">8,8</div>
<div class="t" style="top:473px;font-size:16px;right:266px;transform:scaleX(0.936);transform-origin:100% 0;">5,8</div>
<div class="r" style="left:567.35px;top:480.8px;width:4.6px;height:1.3px;background:#111"></div>
<div class="t" style="top:473px;font-size:16px;right:219px;transform:scaleX(0.936);transform-origin:100% 0;">13,1</div>
<div class="t" style="top:473px;font-size:16px;right:163.4px;transform:scaleX(0.936);transform-origin:100% 0;">519</div>
<div class="t" style="top:473px;font-size:16px;font-weight:bold;right:126.2px;transform:scaleX(0.936);transform-origin:100% 0;">9,6</div>
<div class="t" style="top:473px;font-size:16px;right:90px;transform:scaleX(0.936);transform-origin:100% 0;">6,5</div>
<div class="r" style="left:744.1px;top:480.8px;width:4.6px;height:1.3px;background:#111"></div>
<div class="t" style="top:473px;font-size:16px;right:43px;transform:scaleX(0.936);transform-origin:100% 0;">14,0</div>
<div class="t" style="top:494px;font-size:16px;left:42px;transform:scaleX(0.9828);transform-origin:0 0;">Melilla</div>
<div class="t" style="top:494px;font-size:16px;right:527.7px;transform:scaleX(0.936);transform-origin:100% 0;">914</div>
<div class="t" style="top:494px;font-size:16px;font-weight:bold;right:490.1px;transform:scaleX(0.936);transform-origin:100% 0;">10,5</div>
<div class="t" style="top:494px;font-size:16px;right:453px;transform:scaleX(0.936);transform-origin:100% 0;">7,2</div>
<div class="r" style="left:380.15px;top:501.8px;width:4.6px;height:1.3px;background:#111"></div>
<div class="t" style="top:494px;font-size:16px;right:407px;transform:scaleX(0.936);transform-origin:100% 0;">15,1</div>
<div class="t" style="top:494px;font-size:16px;right:338.3px;transform:scaleX(0.936);transform-origin:100% 0;">414</div>
<div class="t" style="top:494px;font-size:16px;font-weight:bold;right:300.9px;transform:scaleX(0.936);transform-origin:100% 0;">9,2</div>
<div class="t" style="top:494px;font-size:16px;right:266px;transform:scaleX(0.936);transform-origin:100% 0;">5,5</div>
<div class="r" style="left:567.35px;top:501.8px;width:4.6px;height:1.3px;background:#111"></div>
<div class="t" style="top:494px;font-size:16px;right:219px;transform:scaleX(0.936);transform-origin:100% 0;">15,0</div>
<div class="t" style="top:494px;font-size:16px;right:163.4px;transform:scaleX(0.936);transform-origin:100% 0;">500</div>
<div class="t" style="top:494px;font-size:16px;font-weight:bold;right:126.2px;transform:scaleX(0.936);transform-origin:100% 0;">11,8</div>
<div class="t" style="top:494px;font-size:16px;right:90px;transform:scaleX(0.936);transform-origin:100% 0;">8,4</div>
<div class="r" style="left:744.1px;top:501.8px;width:4.6px;height:1.3px;background:#111"></div>
<div class="t" style="top:494px;font-size:16px;right:43px;transform:scaleX(0.936);transform-origin:100% 0;">16,4</div>
</body></html>
